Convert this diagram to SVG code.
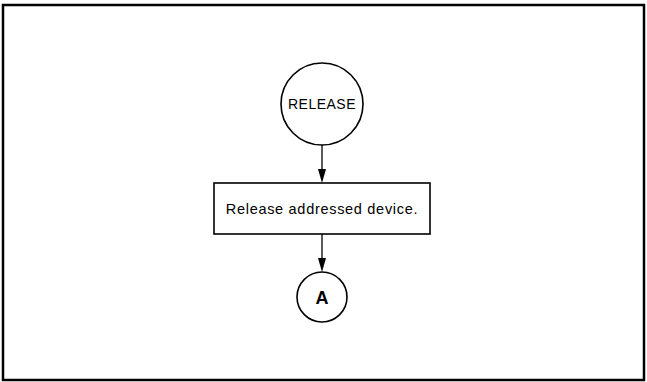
<svg xmlns="http://www.w3.org/2000/svg" width="647" height="382" viewBox="0 0 647 382">
<style>
.n{fill:#fff;stroke:#000;stroke-width:1.6}
.t{font-family:"Liberation Sans",Arial,sans-serif;font-size:14.5px;letter-spacing:0.7px;fill:#000;text-anchor:middle}
.c{stroke:#000;stroke-width:1.3;fill:none}
.ah{fill:#000}
</style>
<rect x="3" y="5" width="641" height="375" fill="#fff" stroke="#000" stroke-width="2.5"/>
<g id="connectors">
<line class="c" x1="322" y1="145" x2="322" y2="169"/>
<path class="ah" d="M318,169 L326,169 L322,183 Z"/>
<line class="c" x1="322" y1="234" x2="322" y2="258"/>
<path class="ah" d="M318,258 L326,258 L322,272 Z"/>
</g>
<g id="release">
<circle class="n" cx="322" cy="104" r="41"/>
<text class="t" x="322" y="109" style="font-size:14px;letter-spacing:0.5px">RELEASE</text>
</g>
<g id="box">
<rect class="n" x="214" y="183" width="216" height="51"/>
<text class="t" x="322" y="214">Release addressed device.</text>
</g>
<g id="a">
<circle class="n" cx="322" cy="297" r="25"/>
<text class="t" x="322" y="304" style="font-size:18px;font-weight:bold;letter-spacing:0">A</text>
</g>
</svg>
